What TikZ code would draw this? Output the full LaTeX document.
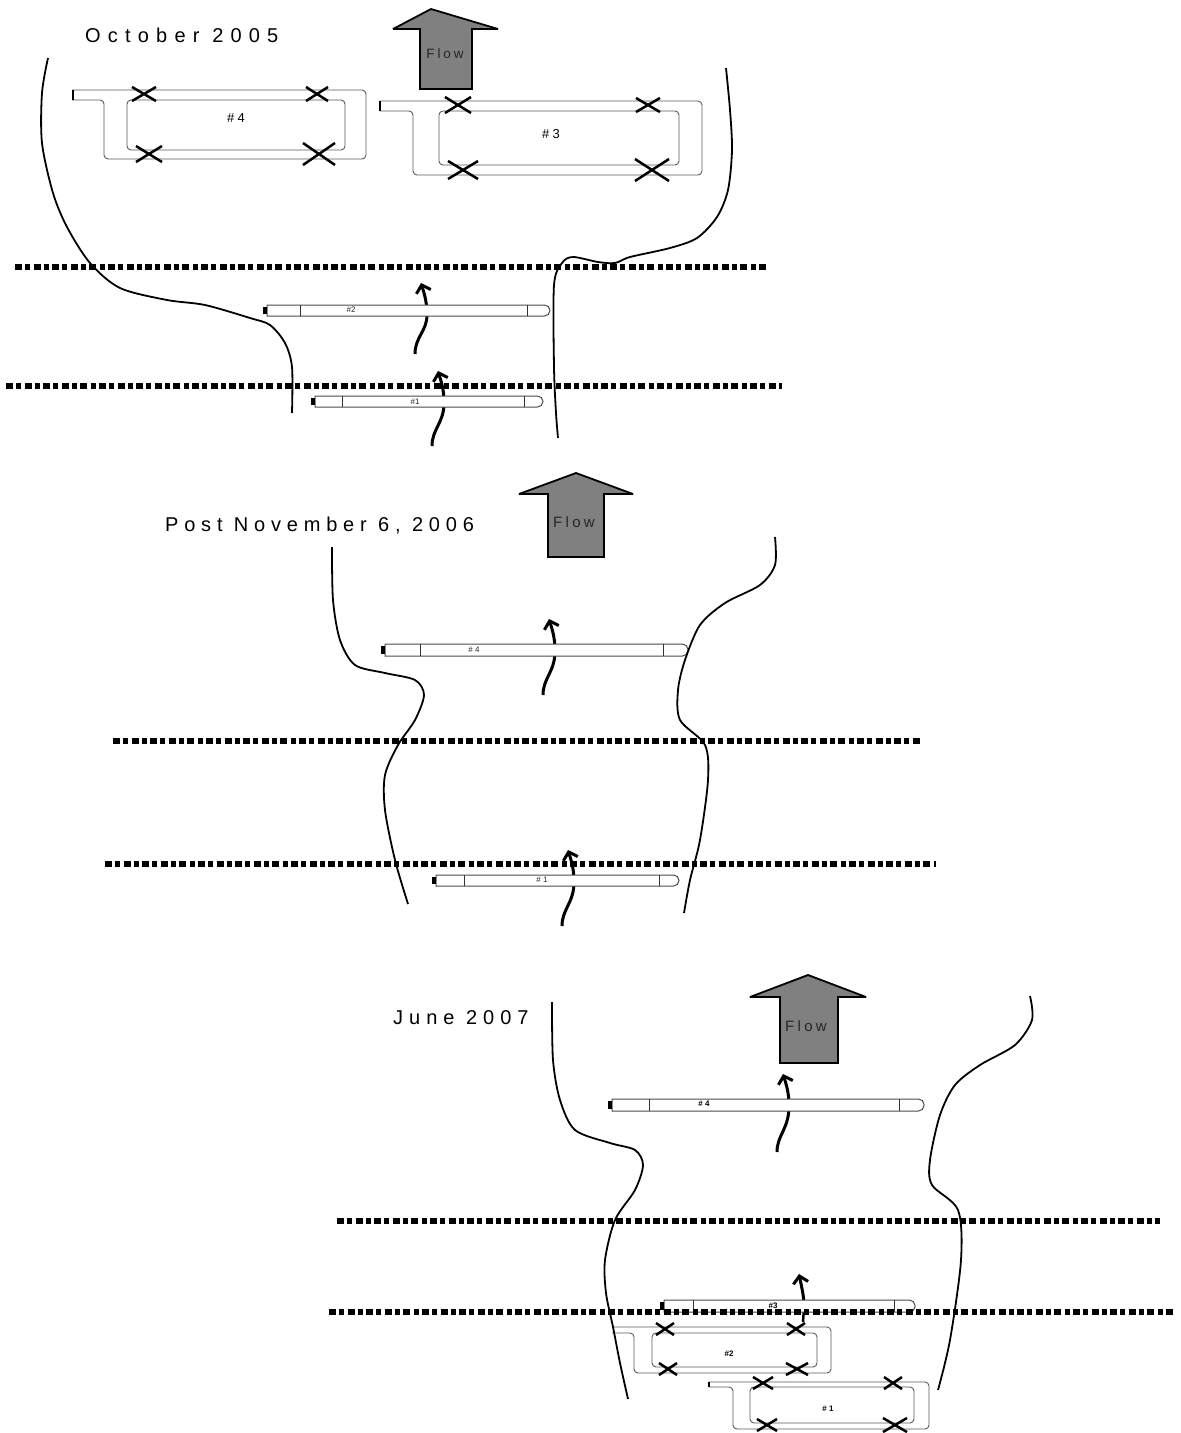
\documentclass[tikz,border=0pt]{standalone}
\usepackage{fontspec}
\setmainfont{Liberation Sans}
\usetikzlibrary{arrows.meta}
\tikzset{
    riverbank/.style={line width=1.8pt,line join=round,tension=0.5},
    dropline/.style={line width=5.4pt,dash pattern=on 7pt off 3.2pt on 5pt off 3.4pt},
    floodarrow/.style={draw=black,fill=black!50,line width=1.8pt,miter limit=3},
    flowline/.style={line width=3pt,-{Straight Barb[length=7pt,width=15pt]}},
    wingloop/.style={draw=black!65,line width=0.9pt,rounded corners=4pt},
    wingcross/.style={line width=2.5pt},
    tubewall/.style={draw=black!70,fill=white,line width=1pt},
    bigtitle/.style={inner sep=0pt,font=\fontsize{20}{22}\selectfont\addfontfeatures{LetterSpace=#1}},
    flowtitle/.style={inner sep=0pt,text=black!85,font=\fontsize{#1}{16}\selectfont\addfontfeatures{LetterSpace=22}},
    looptitle/.style={inner sep=0pt,font=\fontsize{13}{14}\selectfont\addfontfeatures{LetterSpace=25}},
    tubetitle/.style={inner sep=0pt,font=\fontsize{8}{9}\selectfont,text=black!85},
    tubetitlebold/.style={inner sep=0pt,font=\fontsize{8}{9}\selectfont\bfseries}
}
\begin{document}
\begin{tikzpicture}[x=1pt,y=-1pt]
    \useasboundingbox (0,0) rectangle (1181,1433);

    \foreach \xtip/\ytip/\len in {421/283/71,438/371/75,549/619/76,568/850/76,783/1074/78}
        {\draw[flowline] (\xtip-6,\ytip+\len) .. controls (\xtip-6,\ytip+\len-17) and (\xtip+6,\ytip+\len-23) .. (\xtip+6,\ytip+32) .. controls (\xtip+6,\ytip+18) and (\xtip+3,\ytip+10) .. (\xtip,\ytip);}
    \draw[line width=2.5pt] (803,1322) -- (804,1308);
    \draw[flowline] (804,1302) .. controls (803,1292) and (801,1284) .. (799,1274);

    \foreach \xa/\xb/\xc/\xd/\ya/\yb in {267/300/527/550/305/316,315/342/524/543/396/407,385/420/663/688/644/656,
        436/464/659/679/875/886,612/649/899/924/1099/1111,664/693/894/915/1300/1312}
        {\draw[tubewall] (\xa,\ya) [rounded corners=5.5pt] -- (\xd,\ya) -- (\xd,\yb) [sharp corners] -- (\xa,\yb) -- cycle;
        \draw[black!80,line width=1pt] (\xb,\ya) -- (\xb,\yb) (\xc,\ya) -- (\xc,\yb);
        \draw[line width=4pt] (\xa-2.5,\ya+2) -- (\xa-2.5,\yb-2);}

    \foreach \xa/\ya/\xb/\yb in {15/267/768/267,6/386/782/386,113/741/922/741,105/864/936/864,337/1221/1160/1221,329/1312/1176/1312}
        {\draw[dropline] (\xa,\ya) -- (\xb,\yb);}

    \foreach \xa/\xb/\xc/\xd/\xe/\ya/\yb/\yc/\yd in {72/104/127/345/366/90/100/150/159,380/413/439/679/702/101/111/165/175,
        612/634/652/817/831/1327/1333/1367/1373,709/733/750/914/929/1382/1387/1423/1429}
        {\draw[wingloop] (\xa,\ya) -- (\xe,\ya) -- (\xe,\yd) -- (\xb,\yd) -- (\xb,\yb) [sharp corners] -- (\xa,\yb);
        \draw[wingloop] (\xc,\yb) rectangle (\xd,\yc);}
    \foreach \xa/\ya/\yb in {73/90/100,380/101/111,709/1382/1387}
        {\draw[line width=2pt] (\xa,\ya) -- (\xa,\yb);}

    \foreach \x/\y/\dx/\dy in {144/94/12/7,317/94/11/7,149/154/13/8,319/154/16/11,458/105/13/8,648/105/12/7,463/170/15/9,652/170/17/11,
        665/1329/9/6,796/1329/9/6,668/1369/9/6,797/1369/11/6,763/1383/10/6,893/1383/9/6,767/1425/10/6,895/1425/12/7}
        {\draw[wingcross] (\x-\dx,\y+\dy) -- (\x+\dx,\y-\dy) (\x-\dx,\y-\dy) -- (\x+\dx,\y+\dy);}

    \filldraw[floodarrow] (431,9) -- (498,29) -- (472,29) -- (472,89) -- (420,89) -- (420,29) -- (393,29) -- cycle;
    \filldraw[floodarrow] (576,473) -- (633,494) -- (604,494) -- (604,557) -- (548,557) -- (548,494) -- (519,494) -- cycle;
    \filldraw[floodarrow] (808,975) -- (866,997) -- (838,997) -- (838,1063) -- (780,1063) -- (780,997) -- (750,997) -- cycle;

    \draw[riverbank] plot[smooth] coordinates {(48,58) (42,93) (42,143) (53,193) (67,227) (90,263) (120,288) (167,300) (205,305) (250,318) (270,325) (285,343) (292,367) (292,413)};
    \draw[riverbank] plot[smooth] coordinates {(726,68) (730,110) (732,150) (728,190) (717,217) (697,238) (670,248) (630,257) (615,263) (598,262) (573,257) (562,263) (554,285) (554,367) (556,413) (558,438)};
    \draw[riverbank] plot[smooth] coordinates {(332,547) (333,600) (340,640) (355,665) (385,673) (415,680) (424,695) (415,720) (398,745) (385,775) (385,810) (395,860) (408,904)};
    \draw[riverbank] plot[smooth] coordinates {(775,537) (775,565) (760,585) (725,603) (700,625) (685,660) (678,690) (680,720) (705,745) (708,780) (700,840) (690,880) (684,913)};
    \draw[riverbank] plot[smooth] coordinates {(552,1002) (553,1060) (560,1100) (575,1130) (610,1143) (635,1150) (643,1165) (635,1190) (615,1220) (605,1260) (606,1293) (613,1327) (620,1363) (628,1399)};
    \draw[riverbank] plot[smooth] coordinates {(1030,996) (1032,1020) (1015,1045) (980,1065) (955,1085) (940,1115) (930,1160) (932,1185) (958,1210) (961,1260) (950,1340) (938,1390)};

    \node[bigtitle=36,anchor=west] (octtitle) at (85,35) {October 2005};
    \node[bigtitle=29,anchor=west] (posttitle) at (165,526) {Post November 6, 2006};
    \node[bigtitle=30,anchor=west] (junetitle) at (393,1018) {June 2007};

    \node[flowtitle=13.5] (flowoct) at (445,54) {Flow};
    \node[flowtitle=15] (flowpost) at (574,522) {Flow};
    \node[flowtitle=15] (flowjune) at (806,1026) {Flow};

    \node[looptitle] (octfour) at (236,118) {\#4};
    \node[looptitle] (octthree) at (551,134) {\#3};
    \node[tubetitle] (octtwo) at (351,310) {\#2};
    \node[tubetitle] (octone) at (415,402) {\#1};
    \node[tubetitle] (postfour) at (474,650) {\# 4};
    \node[tubetitle] (postone) at (542,880) {\# 1};
    \node[tubetitlebold] (junefour) at (704,1104) {\# 4};
    \node[tubetitlebold] (junethree) at (773,1306) {\#3};
    \node[tubetitlebold] (junetwo) at (729,1354) {\#2};
    \node[tubetitlebold] (juneone) at (828,1409) {\# 1};
\end{tikzpicture}
\end{document}
